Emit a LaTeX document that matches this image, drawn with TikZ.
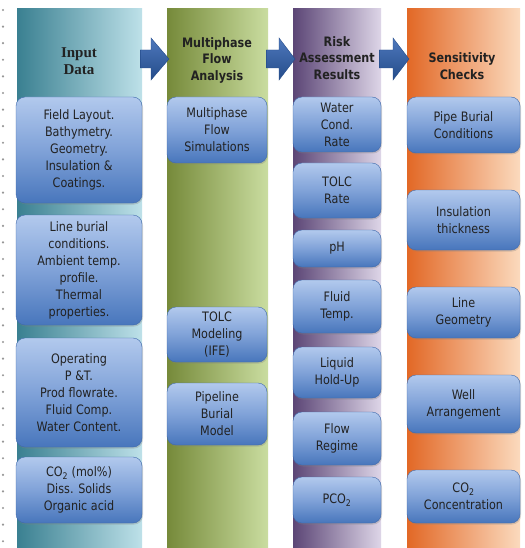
\documentclass[tikz,border=0pt]{standalone}
\usepackage{fontspec}
\setmainfont{DejaVu Sans}[FakeStretch=0.86]
\newfontfamily\headserif{Liberation Serif}
\usetikzlibrary{positioning,calc,shadows}
\definecolor{inputdk}{RGB}{58,128,145}
\definecolor{inputlt}{RGB}{190,225,233}
\definecolor{flowdk}{RGB}{118,138,58}
\definecolor{flowlt}{RGB}{202,221,160}
\definecolor{riskdk}{RGB}{92,70,118}
\definecolor{risklt}{RGB}{222,214,232}
\definecolor{sensdk}{RGB}{226,104,38}
\definecolor{senslt}{RGB}{251,218,190}
\definecolor{boxtop}{RGB}{178,201,237}
\definecolor{boxmid}{RGB}{128,162,216}
\definecolor{boxbot}{RGB}{72,118,188}
\definecolor{boxedge}{RGB}{64,106,172}
\definecolor{arrowlt}{RGB}{78,120,188}
\definecolor{arrowdk}{RGB}{36,76,138}
\definecolor{dotc}{RGB}{150,150,150}
\definecolor{textc}{RGB}{34,34,34}
\tikzset{
  col/.style   = {rectangle, anchor=north west, minimum height=540pt, inner sep=0pt},
  head/.style  = {align=center, font=\fontsize{13}{16.5}\selectfont\bfseries, text=textc},
  item/.style  = {draw=boxedge, rounded corners=9pt, top color=boxtop, bottom color=boxbot,
                  middle color=boxmid, align=center, inner sep=2pt, text=textc,
                  font=\fontsize{13}{17}\selectfont,
                  drop shadow={opacity=0.3, shadow xshift=1pt, shadow yshift=-1.5pt}},
  flow/.style  = {draw=arrowdk, top color=arrowlt, bottom color=arrowdk},
}
% block arrow between two columns
\newcommand{\flowarrow}[3]{%
  \shade[flow] ($(#1.north east)+(-2,42)$) -- ($(#2.north west)+(-#3,42)$)
    -- ($(#2.north west)+(-#3,30)$) -- ($(#2.north west)+(2,51)$)
    -- ($(#2.north west)+(-#3,72)$) -- ($(#2.north west)+(-#3,60)$)
    -- ($(#1.north east)+(-2,60)$) -- cycle;}

\begin{document}
\begin{tikzpicture}[x=1pt, y=-1pt]
\useasboundingbox[fill=white] (0,0) rectangle (524,548);

% dotted margin
\foreach \yy in {10,26.6,...,548} \fill[dotc] (3,\yy) circle (1.2);

% columns
\node[col, minimum width=125pt, left color=inputdk, right color=inputlt] (inp) at (17,8) {};
\node[col, minimum width=101pt, left color=flowdk, right color=flowlt] (mfa) at (167,8) {};
\node[col, minimum width=88pt, left color=riskdk, right color=risklt] (rar) at (293,8) {};
\node[col, minimum width=113pt, left color=sensdk, right color=senslt] (sen) at (407,8) {};

\node[head, font=\headserif\fontsize{15}{17}\selectfont\bfseries] (inph) at (79,61.5) {Input\\Data};
\node[head] (mfah) at (217,60) {Multiphase\\Flow\\Analysis};
\node[head] (rarh) at (337,58) {Risk\\Assessment\\Results};
\node[head] (senh) at (462,66) {Sensitivity\\Checks};

\flowarrow{inp}{mfa}{16}
\flowarrow{mfa}{rar}{14}
\flowarrow{rar}{sen}{14}

% input data
\node[item, minimum width=126pt, minimum height=106pt] (in1) at (79,150) {Field Layout.\\Bathymetry.\\Geometry.\\Insulation \&\\Coatings.};
\node[item, minimum width=126pt, minimum height=110pt] (in2) at (79,270) {Line burial\\conditions.\\Ambient temp.\\profile.\\Thermal\\properties.};
\node[item, minimum width=126pt, minimum height=109pt] (in3) at (79,392.5) {Operating\\P \&T.\\Prod flowrate.\\Fluid Comp.\\Water Content.};
\node[item, minimum width=126pt, minimum height=66pt] (in4) at (79,490) {CO\textsubscript{2} (mol\%)\\Diss. Solids\\Organic acid};

% multiphase flow analysis
\node[item, minimum width=100pt, minimum height=66pt] (mf1) at (217,130) {Multiphase\\Flow\\Simulations};
\node[item, minimum width=100pt, minimum height=55pt] (mf2) at (217,334.5) {TOLC\\Modeling\\(IFE)};
\node[item, minimum width=100pt, minimum height=62pt] (mf3) at (217,414) {Pipeline\\Burial\\Model};

% risk assessment results
\node[item, minimum width=88pt, minimum height=55pt] (rr1) at (337,124.5) {Water\\Cond.\\Rate};
\node[item, minimum width=88pt, minimum height=55pt] (rr2) at (337,190.5) {TOLC\\Rate};
\node[item, minimum width=88pt, minimum height=37pt] (rr3) at (337,248.5) {pH};
\node[item, minimum width=88pt, minimum height=53pt] (rr4) at (337,306.5) {Fluid\\Temp.};
\node[item, minimum width=88pt, minimum height=51pt] (rr5) at (337,372.5) {Liquid\\Hold-Up};
\node[item, minimum width=88pt, minimum height=53pt] (rr6) at (337,438.5) {Flow\\Regime};
\node[item, minimum width=88pt, minimum height=46pt] (rr7) at (337,500) {PCO\textsubscript{2}};

% sensitivity checks
\node[item, minimum width=113pt, minimum height=56pt] (sc1) at (463.5,125) {Pipe Burial\\Conditions};
\node[item, minimum width=113pt, minimum height=60pt] (sc2) at (463.5,220) {Insulation\\thickness};
\node[item, minimum width=113pt, minimum height=51pt] (sc3) at (463.5,312.5) {Line\\Geometry};
\node[item, minimum width=113pt, minimum height=58pt] (sc4) at (463.5,404) {Well\\Arrangement};
\node[item, minimum width=113pt, minimum height=53pt] (sc5) at (463.5,496.5) {CO\textsubscript{2}\\Concentration};

\end{tikzpicture}
\end{document}
